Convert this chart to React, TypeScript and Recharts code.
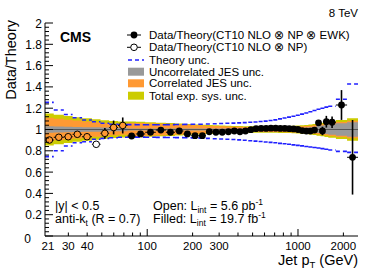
import React from 'react';
import { ComposedChart, XAxis, YAxis, Area, Line, Scatter, ErrorBar, ReferenceLine } from 'recharts';

const FONT = 'Liberation Sans, Arial, Helvetica, sans-serif';

// pT bin edges (GeV)
const binEdges = [21, 24, 28, 32, 37, 43, 49, 56, 64, 74, 84, 97, 114, 133, 153, 174, 196, 220, 245, 272, 300, 330, 362, 395, 430, 468, 507, 548, 592, 638, 686, 737, 790, 846, 905, 967, 1032, 1101, 1172, 1248, 1327, 1410, 1497, 1588, 1784, 2116, 2500];

// Open points (5.6 pb-1), first 9 bins
const openValues = [0.901, 0.927, 0.932, 0.955, 0.932, 0.861, 0.964, 1.019, 1.038];
const openErrors = [0.008, 0.008, 0.01, 0.012, 0.015, 0.02, 0.05, 0.065, 0.075];

// Filled points (19.7 fb-1), remaining 37 bins
const filledValues = [0.939, 0.958, 0.974, 0.995, 0.974, 0.986, 0.958, 0.942, 0.942, 0.979, 0.974, 0.974, 0.979, 0.986, 0.979, 0.986, 0.998, 1.008, 1.01, 1.01, 1.012, 1.012, 1.01, 1.01, 1.008, 1.005, 1.0, 0.99, 0.985, 0.985, 0.995, 1.063, 0.986, 1.073, 1.068, 1.23, 0.739];
const filledErrors = [0.004, 0.004, 0.004, 0.004, 0.004, 0.004, 0.004, 0.004, 0.004, 0.004, 0.004, 0.004, 0.004, 0.004, 0.004, 0.004, 0.004, 0.004, 0.004, 0.004, 0.004, 0.004, 0.004, 0.004, 0.004, 0.004, 0.004, 0.004, 0.004, 0.004, 0.012, 0.025, 0.04, 0.055, 0.055, 0.14, 0.35];

// Theory uncertainty (upper / lower) per bin
const theoryUp = [1.255, 1.183, 1.141, 1.111, 1.089, 1.073, 1.058, 1.049, 1.047, 1.046, 1.045, 1.045, 1.045, 1.046, 1.047, 1.048, 1.049, 1.05, 1.052, 1.054, 1.056, 1.058, 1.06, 1.062, 1.065, 1.068, 1.071, 1.075, 1.079, 1.084, 1.09, 1.1, 1.108, 1.116, 1.125, 1.134, 1.144, 1.155, 1.166, 1.178, 1.19, 1.2, 1.21, 1.218, 1.284, 1.427];
const theoryDown = [0.745, 0.8, 0.845, 0.876, 0.885, 0.908, 0.917, 0.923, 0.927, 0.928, 0.928, 0.927, 0.926, 0.925, 0.924, 0.923, 0.921, 0.919, 0.917, 0.913, 0.911, 0.909, 0.906, 0.903, 0.899, 0.895, 0.891, 0.887, 0.883, 0.879, 0.875, 0.87, 0.866, 0.861, 0.856, 0.851, 0.846, 0.841, 0.836, 0.831, 0.826, 0.82, 0.815, 0.808, 0.795, 0.785];

// Experimental uncertainty half-widths per bin
const totalSys = [0.15, 0.138, 0.126, 0.115, 0.105, 0.096, 0.088, 0.08, 0.075, 0.075, 0.072, 0.068, 0.064, 0.06, 0.056, 0.052, 0.048, 0.045, 0.042, 0.039, 0.037, 0.035, 0.033, 0.032, 0.031, 0.03, 0.03, 0.03, 0.03, 0.03, 0.031, 0.032, 0.033, 0.034, 0.035, 0.037, 0.04, 0.043, 0.047, 0.052, 0.058, 0.064, 0.07, 0.078, 0.09, 0.105];
const corrJES = [0.11, 0.1, 0.092, 0.084, 0.076, 0.068, 0.061, 0.055, 0.05, 0.062, 0.06, 0.057, 0.054, 0.05, 0.047, 0.044, 0.04, 0.037, 0.034, 0.032, 0.03, 0.028, 0.026, 0.025, 0.024, 0.023, 0.023, 0.023, 0.023, 0.023, 0.024, 0.024, 0.025, 0.026, 0.027, 0.028, 0.03, 0.033, 0.036, 0.04, 0.045, 0.05, 0.055, 0.061, 0.07, 0.082];
const uncorrJES = [0.03, 0.028, 0.026, 0.024, 0.022, 0.02, 0.018, 0.017, 0.016, 0.01, 0.01, 0.01, 0.01, 0.01, 0.01, 0.01, 0.01, 0.01, 0.01, 0.01, 0.01, 0.01, 0.01, 0.01, 0.01, 0.01, 0.01, 0.01, 0.01, 0.01, 0.01, 0.01, 0.01, 0.01, 0.01, 0.012, 0.015, 0.018, 0.022, 0.027, 0.033, 0.038, 0.043, 0.05, 0.058, 0.068];

// Ticks
const xTicks = [21, 30, 40, 50, 60, 70, 80, 90, 100, 200, 300, 400, 500, 600, 700, 800, 900, 1000, 2000];
const xTickLabels = [21, 30, 40, 100, 200, 300, 1000, 2000];
const xMajorTicks = [100, 1000];
const yMajorTicks = [0, 0.2, 0.4, 0.6, 0.8, 1, 1.2, 1.4, 1.6, 1.8, 2];

const COL_YEL = '#cccc00';
const COL_ORG = '#ff9933';
const COL_GRY = '#999999';
const COL_BLUE = '#2020ff';

const yTicks: number[] = [];
yMajorTicks.forEach((m, i) => {
  yTicks.push(m);
  if (i < yMajorTicks.length - 1) {
    for (let j = 1; j < 5; j++) yTicks.push(Number((m + j * 0.04).toFixed(2)));
  }
});
const isYMajor = (v: number) => yMajorTicks.some((m) => Math.abs(m - v) < 1e-6);

const nBins = binEdges.length - 1;
const bandData = binEdges.map((edge, i) => {
  const k = Math.min(i, nBins - 1);
  return {
    x: edge,
    yel: [1 - totalSys[k], 1 + totalSys[k]],
    org: [1 - corrJES[k], 1 + corrJES[k]],
    gry: [1 - uncorrJES[k], 1 + uncorrJES[k]],
  };
});

const stepData = (vals: number[]) => {
  const out: { x: number; y: number | null }[] = [];
  vals.forEach((v, i) => {
    out.push({ x: binEdges[i], y: v });
    out.push({ x: binEdges[i + 1], y: v });
    out.push({ x: binEdges[i + 1], y: null });
  });
  return out;
};
const theoryUpData = stepData(theoryUp);
const theoryDownData = stepData(theoryDown);

const bandColorAt = (v: number, bin: number) => {
  const d = Math.abs(v - 1);
  if (d <= uncorrJES[bin]) return COL_GRY;
  if (d <= corrJES[bin]) return COL_ORG;
  if (d <= totalSys[bin]) return COL_YEL;
  return '#ffffff';
};

const makePoint = (v: number, err: number, bin: number) => {
  const lo = binEdges[bin];
  const hi = binEdges[bin + 1];
  const c = Math.sqrt(lo * hi);
  return { x: c, y: v, ey: err, ex: [c - lo, hi - c], bg: bandColorAt(v, bin) };
};
const openPoints = openValues.map((v, i) => makePoint(v, openErrors[i], i));
const filledPoints = filledValues.map((v, i) => makePoint(v, filledErrors[i], i + openValues.length));

const BottomTick = (props: any) => {
  const { x, y, payload } = props;
  const v = payload.value;
  const len = xMajorTicks.includes(v) ? 7 : 3.5;
  return (
    <g>
      {v !== 21 && <line x1={x} x2={x} y1={y} y2={y - len} stroke="#000" strokeWidth={1} />}
      {xTickLabels.includes(v) && (
        <text x={v === 21 ? x + 3 : x} y={y + 14} textAnchor="middle" fontSize={11.5} fontFamily={FONT} fill="#000">
          {v}
        </text>
      )}
    </g>
  );
};
const TopTick = (props: any) => {
  const { x, y, payload } = props;
  const v = payload.value;
  const len = xMajorTicks.includes(v) ? 7 : 3.5;
  if (v === 21) return <g />;
  return <line x1={x} x2={x} y1={y} y2={y + len} stroke="#000" strokeWidth={1} />;
};
const LeftTick = (props: any) => {
  const { x, y, payload } = props;
  const v = payload.value;
  const major = isYMajor(v);
  const isZero = Math.abs(v) < 1e-9;
  return (
    <g>
      <line x1={x} x2={x + (major ? 8 : 4)} y1={y} y2={y} stroke="#000" strokeWidth={1} />
      {major && (
        <text
          x={isZero ? x - 14 : x - 3}
          y={isZero ? y + 7 : y + 4.5}
          textAnchor="end"
          fontSize={12}
          fontFamily={FONT}
          fill="#000"
        >
          {String(v)}
        </text>
      )}
    </g>
  );
};
const RightTick = (props: any) => {
  const { x, y, payload } = props;
  const major = isYMajor(payload.value);
  return <line x1={x} x2={x - (major ? 8 : 4)} y1={y} y2={y} stroke="#000" strokeWidth={1} />;
};

const FilledDot = (props: any) => <circle cx={props.cx} cy={props.cy} r={3.4} fill="#000" />;
const OpenDot = (props: any) => (
  <circle cx={props.cx} cy={props.cy} r={3.3} fill={props.payload?.bg ?? '#fff'} stroke="#000" strokeWidth={1} />
);

export default function App() {
  return (
    <div style={{ position: 'absolute', left: 0, top: 0, width: 374, height: 270, background: '#fff' }}>
      <ComposedChart width={374} height={270} margin={{ top: 23, right: 16, bottom: 0, left: 0 }}>
        <XAxis
          dataKey="x"
          type="number"
          scale="log"
          domain={[21, 2500]}
          allowDataOverflow
          ticks={xTicks}
          interval={0}
          tickSize={0}
          tickMargin={0}
          tickLine={false}
          tick={BottomTick}
          height={34}
          axisLine={{ stroke: '#000' }}
        />
        <XAxis
          xAxisId="top"
          orientation="top"
          dataKey="x"
          type="number"
          scale="log"
          domain={[21, 2500]}
          allowDataOverflow
          ticks={xTicks}
          interval={0}
          tickSize={0}
          tickMargin={0}
          tickLine={false}
          tick={TopTick}
          height={0}
          axisLine={{ stroke: '#000' }}
        />
        <YAxis
          dataKey="y"
          type="number"
          domain={[0, 2]}
          allowDataOverflow
          ticks={yTicks}
          interval={0}
          tickSize={0}
          tickMargin={0}
          tickLine={false}
          tick={LeftTick}
          width={45}
          axisLine={{ stroke: '#000' }}
        />
        <YAxis
          yAxisId="right"
          orientation="right"
          type="number"
          domain={[0, 2]}
          allowDataOverflow
          ticks={yTicks}
          interval={0}
          tickSize={0}
          tickMargin={0}
          tickLine={false}
          tick={RightTick}
          width={0}
          axisLine={{ stroke: '#000' }}
        />
        <Area data={bandData} dataKey="yel" type="stepAfter" fill={COL_YEL} fillOpacity={1} stroke="none" isAnimationActive={false} />
        <Area data={bandData} dataKey="org" type="stepAfter" fill={COL_ORG} fillOpacity={1} stroke="none" isAnimationActive={false} />
        <Area data={bandData} dataKey="gry" type="stepAfter" fill={COL_GRY} fillOpacity={1} stroke="none" isAnimationActive={false} />
        <ReferenceLine y={1} stroke="#555" strokeWidth={1} />
        <Line data={theoryUpData} dataKey="y" type="linear" stroke={COL_BLUE} strokeWidth={1.6} strokeDasharray="4 3" dot={false} connectNulls={false} isAnimationActive={false} />
        <Line data={theoryDownData} dataKey="y" type="linear" stroke={COL_BLUE} strokeWidth={1.6} strokeDasharray="4 3" dot={false} connectNulls={false} isAnimationActive={false} />
        <Scatter data={openPoints} dataKey="y" shape={OpenDot} isAnimationActive={false}>
          <ErrorBar dataKey="ex" direction="x" width={0} stroke="#000" strokeWidth={1} />
          <ErrorBar dataKey="ey" direction="y" width={0} stroke="#000" strokeWidth={1.6} />
        </Scatter>
        <Scatter data={filledPoints} dataKey="y" shape={FilledDot} isAnimationActive={false}>
          <ErrorBar dataKey="ex" direction="x" width={0} stroke="#000" strokeWidth={1} />
          <ErrorBar dataKey="ey" direction="y" width={0} stroke="#000" strokeWidth={1.6} />
        </Scatter>
      </ComposedChart>
      <svg width={374} height={270} style={{ position: 'absolute', left: 0, top: 0, pointerEvents: 'none' }} fontFamily={FONT}>
        <text x={358} y={17} textAnchor="end" fontSize={11.5} fill="#000">8 TeV</text>
        <text x={60} y={42} fontSize={14} fontWeight="bold" fill="#000">CMS</text>
        <text transform="translate(16,20) rotate(-90)" textAnchor="end" fontSize={14.5} fill="#000">Data/Theory</text>
        <text x={358} y={264.5} textAnchor="end" fontSize={14.5} fill="#000">
          Jet p<tspan dy={3} fontSize={9.5}>T</tspan><tspan dy={-3}> (GeV)</tspan>
        </text>

        {/* Legend */}
        <line x1={127} x2={141} y1={35} y2={35} stroke="#000" strokeWidth={1} />
        <circle cx={134} cy={35} r={3.4} fill="#000" />
        <text x={149} y={39} fontSize={11.5} fill="#000">Data/Theory(CT10 NLO ⊗ NP ⊗ EWK)</text>
        <line x1={127} x2={141} y1={47.3} y2={47.3} stroke="#000" strokeWidth={1} />
        <circle cx={134} cy={47.3} r={3.3} fill="#fff" stroke="#000" strokeWidth={1} />
        <text x={149} y={51.3} fontSize={11.5} fill="#000">Data/Theory(CT10 NLO ⊗ NP)</text>
        <line x1={128} x2={144} y1={60} y2={60} stroke={COL_BLUE} strokeWidth={1.6} strokeDasharray="4 3" />
        <text x={149} y={64} fontSize={11.5} fill="#000">Theory unc.</text>
        <rect x={128} y={67.7} width={16} height={8} fill={COL_GRY} />
        <text x={149} y={75.7} fontSize={11.5} fill="#000">Uncorrelated JES unc.</text>
        <rect x={128} y={79.3} width={16} height={8} fill={COL_ORG} />
        <text x={149} y={87.3} fontSize={11.5} fill="#000">Correlated JES unc.</text>
        <rect x={128} y={91.7} width={16} height={8} fill={COL_YEL} />
        <text x={149} y={99.7} fontSize={11.5} fill="#000">Total exp. sys. unc.</text>

        {/* Bottom-left notes */}
        <text x={55} y={209.5} fontSize={12.5} fill="#000">|y| &lt; 0.5</text>
        <text x={55} y={222.5} fontSize={12.5} fill="#000">
          anti-k<tspan dy={3} fontSize={8.5}>t</tspan><tspan dy={-3}> (R = 0.7)</tspan>
        </text>
        <text x={153} y={209.5} fontSize={12.5} fill="#000">
          Open: L<tspan dy={3} fontSize={8.5}>int</tspan><tspan dy={-3}> = 5.6 pb</tspan><tspan dy={-5} fontSize={8.5}>-1</tspan>
        </text>
        <text x={153} y={222.5} fontSize={12.5} fill="#000">
          Filled: L<tspan dy={3} fontSize={8.5}>int</tspan><tspan dy={-3}> = 19.7 fb</tspan><tspan dy={-5} fontSize={8.5}>-1</tspan>
        </text>
      </svg>
    </div>
  );
}
